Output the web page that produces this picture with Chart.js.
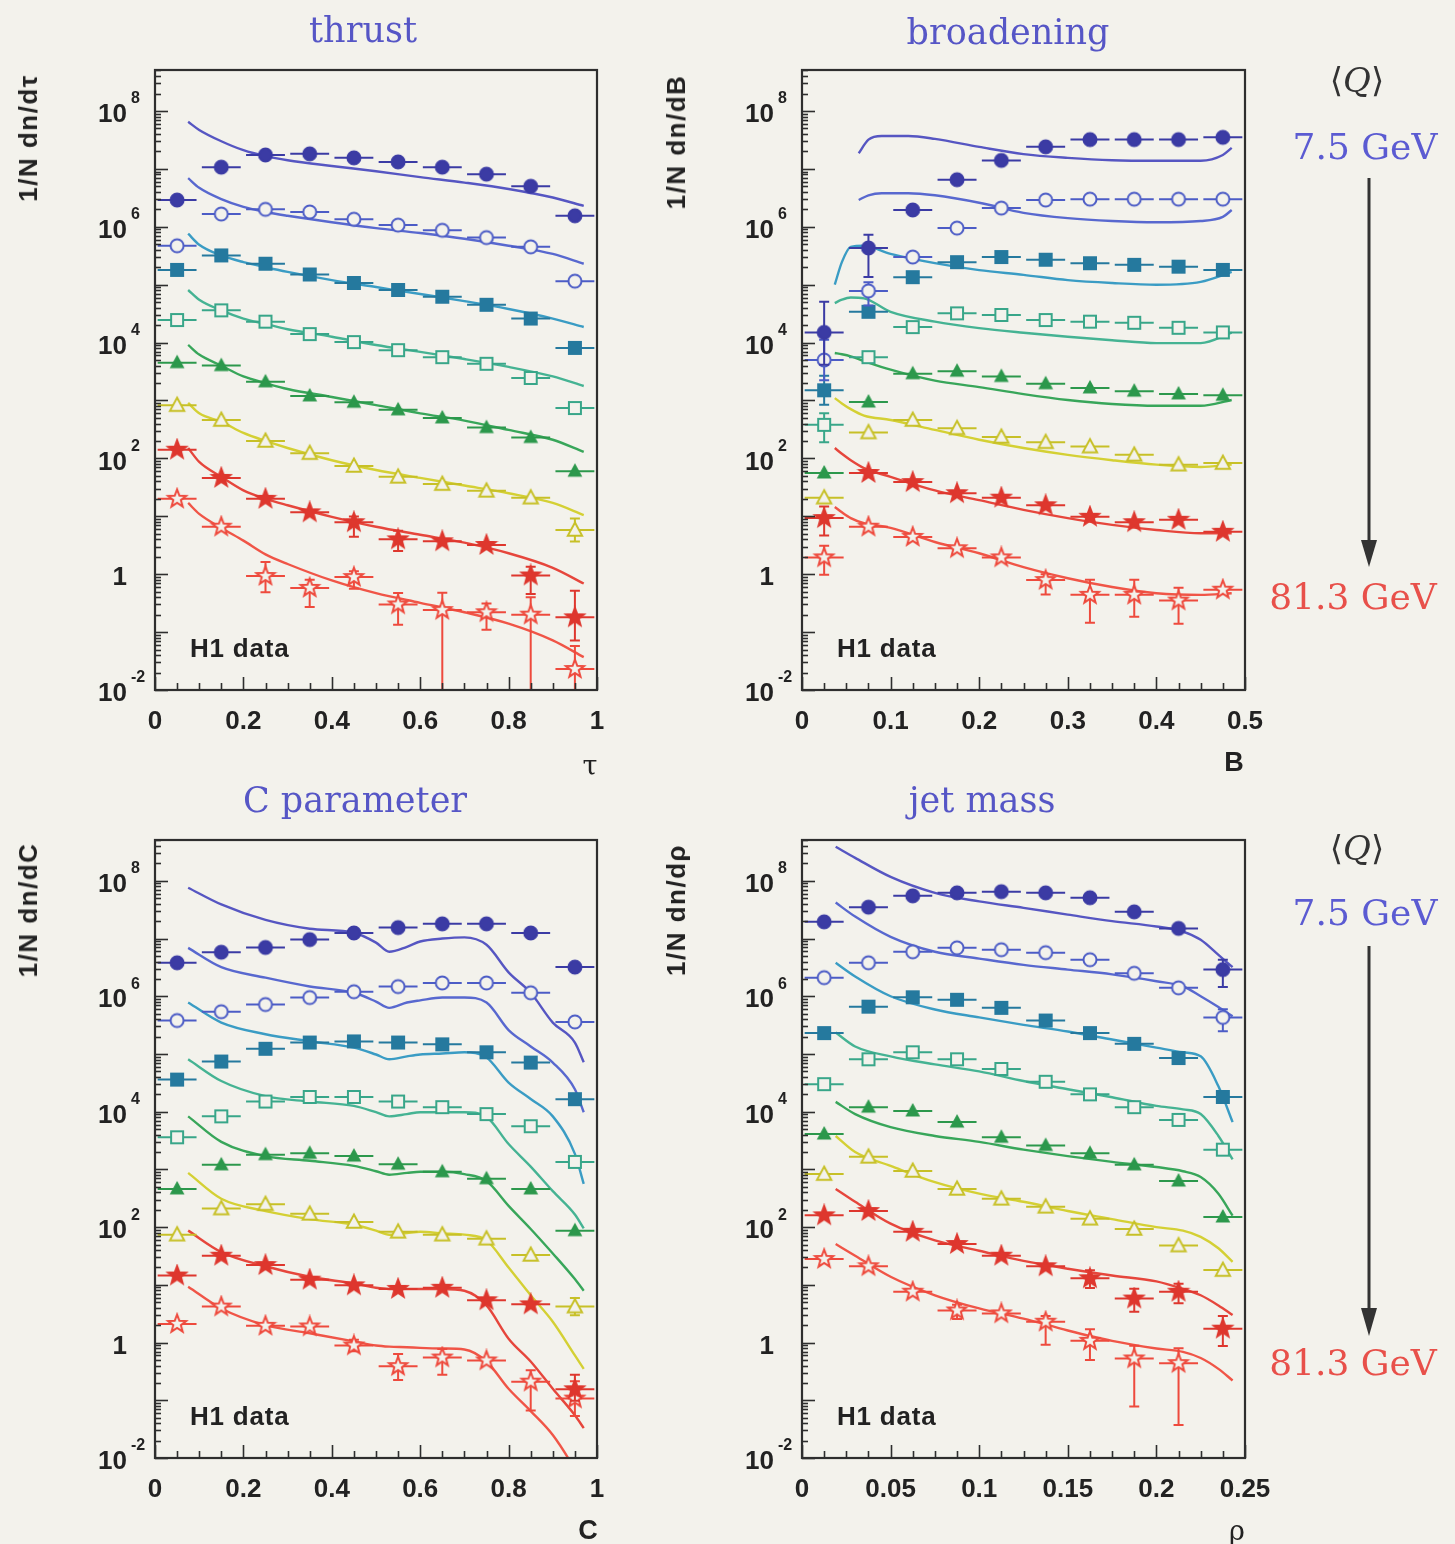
<!DOCTYPE html>
<html><head><meta charset="utf-8">
<script src="https://cdn.jsdelivr.net/npm/chart.js@4.4.1/dist/chart.umd.min.js"></script>
<style>
html,body{margin:0;padding:0;background:#f3f2ec;}
#page{position:relative;width:1455px;height:1544px;overflow:hidden;background:#f3f2ec;}
canvas{position:absolute;}
.t{position:absolute;white-space:nowrap;transform:translate(-50%,-50%);line-height:1;}
.title{font-family:"DejaVu Serif","Liberation Serif",serif;font-size:35px;color:#5656c6;}
.ytitle{font-family:"Liberation Sans",Arial,sans-serif;font-weight:bold;font-size:26px;letter-spacing:1.5px;color:#222;transform:translate(-50%,-50%) rotate(-90deg);}
.h1{font-family:"Liberation Sans",Arial,sans-serif;font-weight:bold;font-size:26px;letter-spacing:0.8px;color:#222;transform:translate(0,-50%);}
.xl{font-family:"Liberation Sans",Arial,sans-serif;font-weight:bold;font-size:27px;color:#222;}
.xg{font-family:"DejaVu Serif","Liberation Serif",serif;font-size:27px;color:#222;}
.q{font-family:"DejaVu Serif","Liberation Serif",serif;font-size:34px;color:#333;}
.blue{font-family:"DejaVu Serif","Liberation Serif",serif;font-size:36px;color:#5b5bd2;}
.red{font-family:"DejaVu Serif","Liberation Serif",serif;font-size:36px;color:#e8504a;}
</style></head>
<body><div id="page">
<canvas id="cT" width="640" height="770" style="left:0;top:0"></canvas>
<canvas id="cB" width="815" height="770" style="left:640px;top:0"></canvas>
<canvas id="cC" width="640" height="774" style="left:0;top:770px"></canvas>
<canvas id="cJ" width="815" height="774" style="left:640px;top:770px"></canvas>

<div class="t title" style="left:363px;top:30px">thrust</div>
<div class="t title" style="left:1008px;top:32px">broadening</div>
<div class="t title" style="left:355px;top:800px">C parameter</div>
<div class="t title" style="left:982px;top:800px">jet mass</div>

<div class="t ytitle" style="left:28px;top:138px">1/N dn/dτ</div>
<div class="t ytitle" style="left:676px;top:142px">1/N dn/dB</div>
<div class="t ytitle" style="left:28px;top:910px">1/N dn/dC</div>
<div class="t ytitle" style="left:676px;top:910px">1/N dn/dρ</div>

<div class="t h1" style="left:190px;top:648px">H1 data</div>
<div class="t h1" style="left:837px;top:648px">H1 data</div>
<div class="t h1" style="left:190px;top:1416px">H1 data</div>
<div class="t h1" style="left:837px;top:1416px">H1 data</div>

<div class="t xg" style="left:590px;top:765px">τ</div>
<div class="t xl" style="left:1234px;top:762px">B</div>
<div class="t xl" style="left:588px;top:1530px">C</div>
<div class="t xg" style="left:1237px;top:1530px">ρ</div>

<div class="t q" style="left:1357px;top:80px">⟨<i>Q</i>⟩</div>
<div class="t blue" style="left:1365px;top:147px">7.5 GeV</div>
<div class="t red" style="left:1353px;top:597px">81.3 GeV</div>
<div class="t q" style="left:1357px;top:848px">⟨<i>Q</i>⟩</div>
<div class="t blue" style="left:1365px;top:913px">7.5 GeV</div>
<div class="t red" style="left:1353px;top:1363px">81.3 GeV</div>

<svg style="position:absolute;left:0;top:0" width="1455" height="1544">
<line x1="1369" y1="178" x2="1369" y2="545" stroke="#333" stroke-width="3"/>
<polygon points="1361,540 1377,540 1369,567" fill="#333"/>
<line x1="1369" y1="946" x2="1369" y2="1312" stroke="#333" stroke-width="3"/>
<polygon points="1361,1308 1377,1308 1369,1336" fill="#333"/>
</svg>
</div>
<script>
// ---------------- DATA ----------------
const yTickValues = [1e-2, 1, 1e2, 1e4, 1e6, 1e8];
const yTickBase = ['10', '1', '10', '10', '10', '10'];
const yTickExp = ['-2', '', '2', '4', '6', '8'];

// thrust
const thrustTicks = [0, 0.2, 0.4, 0.6, 0.8, 1];
const thrustTickLabels = ['0', '0.2', '0.4', '0.6', '0.8', '1'];
const thrustX = [0.05,0.15,0.25,0.35,0.45,0.55,0.65,0.75,0.85,0.95];
const thrustS1 = [2.9e6,1.07e7,1.74e7,1.82e7,1.55e7,1.32e7,1.07e7,8.1e6,5.0e6,1.55e6];
const thrustS2 = [4.7e5,1.66e6,2.0e6,1.8e6,1.35e6,1.07e6,8.7e5,6.5e5,4.5e5,1.15e5];
const thrustS3 = [1.8e5,3.2e5,2.3e5,1.5e5,1.07e5,8.1e4,6.2e4,4.5e4,2.6e4,8.1e3];
const thrustS4 = [2.45e4,3.6e4,2.3e4,1.4e4,1.02e4,7.4e3,5.6e3,4.3e3,2.45e3,740];
const thrustS5 = [4.5e3,4.0e3,2.1e3,1.2e3,930,690,500,340,230,60];
const thrustS6 = [830,460,200,123,74,48,36,27.5,21,5.8];
const thrustS7 = [141,46,20,11.7,7.9,4.0,3.7,3.2,0.95,0.18];
const thrustS8 = [20,6.6,0.93,0.58,0.89,0.30,0.24,0.22,0.20,0.023];
const thrustCurveX = [0.075,0.1,0.15,0.2,0.25,0.3,0.4,0.5,0.6,0.7,0.8,0.9,0.97];
const thrustC1 = [6.5e7,4.7e7,3.0e7,2.1e7,1.66e7,1.41e7,1.12e7,9.1e6,7.2e6,5.8e6,4.5e6,3.2e6,2.3e6];
const thrustC2 = [6.9e6,4.7e6,3.0e6,2.2e6,1.8e6,1.55e6,1.2e6,9.5e5,7.8e5,6.2e5,4.7e5,3.4e5,2.3e5];
const thrustC3 = [7.6e5,4.9e5,3.2e5,2.45e5,2.0e5,1.66e5,1.2e5,9.1e4,6.9e4,5.2e4,3.8e4,2.6e4,1.86e4];
const thrustC4 = [8.1e4,5.5e4,3.6e4,2.6e4,2.1e4,1.7e4,1.26e4,9.1e3,6.9e3,5.2e3,3.8e3,2.6e3,1.78e3];
const thrustC5 = [9.1e3,6.2e3,4.0e3,2.6e3,2.0e3,1.58e3,1.15e3,830,600,450,310,210,129];
const thrustC6 = [910,600,430,275,200,151,93,63,46,34,25,17,10.5];
const thrustC7 = [151,87,48,28,20,15.5,9.8,6.6,4.8,3.5,2.3,1.29,0.69];
const thrustC8 = [17,11,6.3,3.8,2.2,1.5,0.78,0.47,0.32,0.22,0.14,0.072,0.037];
// error bars: [point index, up (dex), down (dex)]
const thrustErr6 = [[9,0.2,0.2]];
const thrustErr7 = [[4,0.1,0.25],[5,0.15,0.2],[8,0.15,0.32],[9,0.46,0.4]];
const thrustErr8 = [[2,0.24,0.28],[3,0.14,0.33],[4,0.1,0.2],[5,0.2,0.35],[6,0.3,3],[7,0.15,0.3],[8,0.3,3],[9,0.4,3]];

// broadening
const brTicks = [0, 0.1, 0.2, 0.3, 0.4, 0.5];
const brTickLabels = ['0', '0.1', '0.2', '0.3', '0.4', '0.5'];
const brX = [0.025,0.075,0.125,0.175,0.225,0.275,0.325,0.375,0.425,0.475];
const brS1 = [1.5e4,4.3e5,1.95e6,6.5e6,1.4e7,2.4e7,3.2e7,3.2e7,3.2e7,3.5e7];
const brS2 = [5.0e3,7.8e4,3.0e5,9.5e5,2.1e6,2.9e6,3.0e6,3.0e6,3.0e6,3.0e6];
const brS3 = [1.5e3,3.4e4,1.35e5,2.45e5,3.0e5,2.7e5,2.35e5,2.2e5,2.05e5,1.8e5];
const brS4 = [380,5.6e3,1.85e4,3.2e4,3.0e4,2.45e4,2.3e4,2.2e4,1.8e4,1.5e4];
const brS5 = [56,940,2.9e3,3.2e3,2.6e3,1.95e3,1.65e3,1.45e3,1.3e3,1.23e3];
const brS6 = [21,280,460,330,235,190,160,115,78,83];
const brS7 = [9.3,56,39,25,21,15.5,9.8,7.9,8.7,5.4];
const brS8 = [1.95,6.6,4.4,2.8,1.95,0.79,0.44,0.44,0.35,0.54];
const brCurveXa = [0.064,0.075,0.09,0.12,0.15,0.2,0.25,0.3,0.35,0.4,0.45,0.475,0.485];
const brCurveXb = [0.037,0.045,0.055,0.07,0.1,0.15,0.2,0.25,0.3,0.35,0.4,0.45,0.485];
const brC1 = [1.86e7,3.2e7,3.7e7,3.7e7,3.3e7,2.4e7,1.8e7,1.55e7,1.41e7,1.38e7,1.38e7,1.74e7,2.3e7];
const brC2 = [2.9e6,3.5e6,3.8e6,3.8e6,3.5e6,2.6e6,1.74e6,1.41e6,1.26e6,1.2e6,1.26e6,1.48e6,1.95e6];
const brC3 = [1.0e5,2.45e5,4.5e5,4.7e5,3.4e5,2.35e5,1.78e5,1.48e5,1.2e5,1.07e5,1.0e5,1.12e5,1.66e5];
const brC4 = [4.8e4,5.5e4,6.0e4,5.8e4,3.4e4,2.3e4,1.78e4,1.48e4,1.26e4,1.1e4,9.8e3,9.8e3,1.48e4];
const brC5 = [6.6e3,6.3e3,5.8e3,4.8e3,3.4e3,2.2e3,1.7e3,1.29e3,1.02e3,870,810,810,1.02e3];
const brC6 = [1.1e3,890,710,550,460,310,210,151,115,93,78,71,78];
const brC7 = [151,120,93,68,48,28,19,12.9,9.3,7.1,5.8,5.1,5.1];
const brC8 = [14.5,11.7,9.3,7.6,6.3,3.6,2.3,1.32,0.85,0.60,0.47,0.44,0.47];
const brErr1 = [[0,0.53,0.56],[1,0.23,0.5]];
const brErr2 = [[0,0.35,0.35],[1,0.15,0.25]];
const brErr3 = [[0,0.25,0.25]];
const brErr4 = [[0,0.2,0.3]];
const brErr7 = [[0,0.2,0.3]];
const brErr8 = [[0,0.2,0.3],[5,0.1,0.25],[6,0.26,0.48],[7,0.26,0.38],[8,0.22,0.4]];

// C parameter
const cX = [0.05,0.15,0.25,0.35,0.45,0.55,0.65,0.75,0.85,0.95];
const cS1 = [3.8e6,5.8e6,7.0e6,9.6e6,1.25e7,1.55e7,1.8e7,1.8e7,1.25e7,3.2e6];
const cS2 = [3.8e5,5.4e5,7.2e5,9.5e5,1.2e6,1.47e6,1.7e6,1.7e6,1.15e6,3.6e5];
const cS3 = [3.6e4,7.4e4,1.23e5,1.58e5,1.65e5,1.58e5,1.47e5,1.07e5,7.1e4,1.65e4];
const cS4 = [3.6e3,8.3e3,1.5e4,1.8e4,1.8e4,1.5e4,1.2e4,9.1e3,5.6e3,1.35e3];
const cS5 = [460,1.2e3,1.8e3,1.9e3,1.7e3,1.23e3,910,690,460,87];
const cS6 = [74,210,250,170,123,83,74,63,33,4.2];
const cS7 = [14.5,32,22,12.3,9.8,8.5,8.9,5.4,4.6,0.155];
const cS8 = [2.1,4.2,1.95,1.9,0.89,0.39,0.55,0.49,0.21,0.107];
const cCurveX = [0.075,0.15,0.25,0.35,0.45,0.5,0.53,0.57,0.6,0.65,0.7,0.75,0.8,0.85,0.9,0.95,0.97];
const cC1 = [7.6e7,3.9e7,2.1e7,1.48e7,1.26e7,8.5e6,5.9e6,7.2e6,8.9e6,1.0e7,1.05e7,7.8e6,2.6e6,1.15e6,3.5e5,1.58e5,7.2e4];
const cC2 = [6.9e6,3.2e6,2.1e6,1.48e6,1.15e6,8.1e5,6.3e5,7.8e5,8.5e5,9.5e5,9.5e5,7.8e5,2.6e5,1.35e5,7.1e4,2.45e4,9.8e3];
const cC3 = [7.8e5,3.5e5,2.2e5,1.66e5,1.29e5,9.8e4,8.1e4,9.1e4,9.8e4,1.02e5,1.07e5,8.7e4,3.2e4,1.66e4,8.3e3,1.86e3,560];
const cC4 = [8.1e4,3.4e4,1.86e4,1.5e4,1.26e4,9.8e3,8.3e3,9.1e3,9.8e3,9.8e3,9.8e3,8.1e3,2.75e3,1.12e3,420,166,95];
const cC5 = [8.3e3,3.0e3,1.7e3,1.41e3,1.15e3,930,810,870,910,910,830,630,234,93,35,12.6,7.9];
const cC6 = [870,310,190,138,110,87,74,79,83,78,74,59,20,6.6,2.3,0.60,0.35];
const cC7 = [87,37,21,13.8,10.5,8.9,8.5,8.5,8.5,8.5,7.9,4.4,1.17,0.47,0.158,0.055,0.033];
const cC8 = [9.3,3.9,2.0,1.45,1.05,0.89,0.85,0.83,0.81,0.79,0.76,0.47,0.158,0.065,0.025,0.0063,0.0032];
const cErr6 = [[9,0.15,0.15]];
const cErr7 = [[9,0.25,0.2]];
const cErr8 = [[4,0.1,0.1],[5,0.21,0.24],[6,0.15,0.3],[8,0.2,0.5],[9,0.3,0.3]];

// jet mass
const jetTicks = [0, 0.05, 0.1, 0.15, 0.2, 0.25];
const jetTickLabels = ['0', '0.05', '0.1', '0.15', '0.2', '0.25'];
const jetX = [0.0125,0.0375,0.0625,0.0875,0.1125,0.1375,0.1625,0.1875,0.2125,0.2375];
const jetS1 = [1.95e7,3.5e7,5.5e7,6.2e7,6.5e7,6.2e7,5.1e7,2.9e7,1.5e7,2.9e6];
const jetS2 = [2.1e6,3.8e6,5.9e6,6.9e6,6.4e6,5.7e6,4.3e6,2.5e6,1.4e6,4.3e5];
const jetS3 = [2.3e5,6.6e5,9.6e5,8.7e5,6.3e5,3.8e5,2.3e5,1.5e5,8.5e4,1.8e4];
const jetS4 = [3.0e4,8.1e4,1.07e5,8.1e4,5.5e4,3.3e4,2.0e4,1.2e4,7.2e3,2.2e3];
const jetS5 = [4.1e3,1.2e4,1.03e4,6.6e3,3.6e3,2.6e3,1.9e3,1.2e3,630,150];
const jetS6 = [830,1.65e3,940,460,310,225,140,93,48,18];
const jetS7 = [160,190,83,51,32,21,13,5.8,7.6,1.74];
const jetS8 = [28,21,7.6,3.6,3.2,2.3,1.07,0.53,0.44,null];
const jetCurveX = [0.019,0.03,0.05,0.075,0.1,0.125,0.15,0.175,0.2,0.215,0.225,0.235,0.243];
const jetC1 = [3.9e8,2.5e8,1.17e8,6.2e7,4.4e7,3.4e7,2.6e7,2.0e7,1.62e7,1.32e7,9.5e6,5.2e6,3.2e6];
const jetC2 = [4.2e7,2.4e7,1.07e7,5.9e6,4.5e6,3.5e6,2.9e6,2.4e6,1.82e6,1.48e6,1.0e6,6.5e5,4.5e5];
const jetC3 = [3.8e6,2.2e6,1.0e6,5.9e5,4.3e5,3.2e5,2.45e5,1.78e5,1.29e5,1.07e5,9.1e4,2.75e4,6.6e3];
const jetC4 = [2.35e5,1.35e5,9.1e4,6.6e4,5.0e4,3.4e4,2.45e4,1.78e4,1.26e4,1.1e4,9.1e3,3.8e3,1.5e3];
const jetC5 = [1.48e4,9.1e3,5.4e3,3.8e3,3.0e3,2.2e3,1.7e3,1.35e3,1.1e3,930,740,380,158];
const jetC6 = [3.8e3,2.0e3,1.15e3,600,380,275,190,138,100,87,68,43,25];
const jetC7 = [460,275,115,59,39,26,19,14.5,11.5,8.5,6.6,4.4,3.0];
const jetC8 = [51,32,13.8,6.6,3.9,2.6,1.62,1.07,0.79,0.69,0.54,0.35,0.22];
const jetErr1 = [[9,0.17,0.3]];
const jetErr2 = [[9,0.14,0.24]];
const jetErr7 = [[6,0.14,0.17],[7,0.17,0.23],[8,0.14,0.2],[9,0.22,0.3]];
const jetErr8 = [[3,0.1,0.15],[5,0.1,0.4],[6,0.2,0.33],[7,0.22,0.83],[8,0.26,1.07]];

// ---------------- STYLE ----------------
const BG = '#f3f2ec';
const FONT = '"Liberation Sans", Arial, sans-serif';
const markerColors = ['#3b3ba4','#4c5cc6','#25799e','#38a689','#2c984c','#c7c027','#de372e','#ee4a3d'];
const curveColors  = ['#5656c2','#5868cf','#3a9cc4','#45b393','#38a65a','#d4d034','#e6463c','#f05547'];
const shapes = ['circle','circle','square','square','triangle','triangle','star','star'];
const filled = [true,false,true,false,true,false,true,false];

function makeMarker(shape, color, isFilled) {
  const s = 24, c = document.createElement('canvas');
  c.width = s; c.height = s;
  const g = c.getContext('2d');
  g.translate(s/2, s/2);
  g.lineWidth = 2; g.strokeStyle = color; g.fillStyle = isFilled ? color : BG;
  g.beginPath();
  if (shape === 'circle') g.arc(0, 0, 6.5, 0, Math.PI*2);
  else if (shape === 'square') g.rect(-6, -6, 12, 12);
  else if (shape === 'triangle') { const r = isFilled ? 6 : 7.5; g.moveTo(0, -r); g.lineTo(r*0.95, r*0.75); g.lineTo(-r*0.95, r*0.75); g.closePath(); }
  else {
    const R = 9.5, r = 4;
    for (let k = 0; k < 10; k++) {
      const a = -Math.PI/2 + k*Math.PI/5, rr = k%2 ? r : R;
      const px = rr*Math.cos(a), py = rr*Math.sin(a);
      if (k === 0) g.moveTo(px, py); else g.lineTo(px, py);
    }
    g.closePath();
  }
  g.fill(); g.stroke();
  return c;
}

const errPlugin = {
  id: 'errbars',
  beforeDatasetDraw(chart, args) {
    const ds = chart.data.datasets[args.index];
    if (!ds.isData) return;
    const {ctx, chartArea: a, scales: {x, y}} = chart;
    ctx.save();
    ctx.beginPath(); ctx.rect(a.left, a.top, a.right - a.left, a.bottom - a.top); ctx.clip();
    ctx.strokeStyle = ds.errColor; ctx.lineWidth = 2;
    ds.data.forEach(p => {
      if (p.y == null) return;
      const py = y.getPixelForValue(p.y);
      ctx.beginPath();
      ctx.moveTo(x.getPixelForValue(p.x - ds.halfBin), py);
      ctx.lineTo(x.getPixelForValue(p.x + ds.halfBin), py);
      ctx.stroke();
    });
    (ds.errs || []).forEach(([i, up, dn]) => {
      const p = ds.data[i];
      const px = x.getPixelForValue(p.x);
      const yt = y.getPixelForValue(p.y * Math.pow(10, up));
      const yb = y.getPixelForValue(p.y / Math.pow(10, dn));
      ctx.beginPath();
      ctx.moveTo(px, yt); ctx.lineTo(px, yb);
      ctx.moveTo(px - 5, yt); ctx.lineTo(px + 5, yt);
      ctx.moveTo(px - 5, yb); ctx.lineTo(px + 5, yb);
      ctx.stroke();
    });
    ctx.restore();
  }
};

const framePlugin = {
  id: 'frame',
  afterDraw(chart, args, o) {
    const {ctx, chartArea: a, scales: {x, y}} = chart;
    ctx.save();
    ctx.strokeStyle = '#2e2e2e';
    ctx.lineWidth = 1.6;
    for (let e = -2; e <= 8; e++) {
      for (let m = 1; m <= 9; m++) {
        const v = m * Math.pow(10, e);
        if (v > y.max) break;
        const py = Math.round(y.getPixelForValue(v)) + 0.5;
        const len = m === 1 ? 13 : 6;
        ctx.beginPath(); ctx.moveTo(a.left, py); ctx.lineTo(a.left + len, py); ctx.stroke();
      }
    }
    const n = Math.round(x.max / o.minor);
    for (let i = 0; i <= n; i++) {
      const px = Math.round(x.getPixelForValue(i * o.minor)) + 0.5;
      const len = (i % o.per === 0) ? 13 : 7;
      ctx.beginPath(); ctx.moveTo(px, a.bottom); ctx.lineTo(px, a.bottom - len); ctx.stroke();
    }
    ctx.lineWidth = 2.2;
    ctx.strokeRect(a.left, a.top, a.right - a.left, a.bottom - a.top);
    // y tick labels: base + raised exponent, at the library's tick positions
    ctx.fillStyle = '#222';
    ctx.textBaseline = 'middle';
    y.ticks.forEach((t, i) => {
      const py = y.getPixelForValue(t.value);
      ctx.font = 'bold 26px ' + FONT;
      ctx.textAlign = 'right';
      ctx.fillText(yTickBase[i], a.left - 28, py + 4);
      if (yTickExp[i]) {
        ctx.font = 'bold 16px ' + FONT;
        ctx.textAlign = 'left';
        ctx.fillText(yTickExp[i], a.left - 24, py - 12);
      }
    });
    ctx.restore();
  }
};

function makePanel(id, p) {
  const datasets = [];
  for (let k = 0; k < 8; k++) {
    datasets.push({
      type: 'line',
      data: p.curveX[k].map((xv, i) => ({x: xv, y: p.curves[k][i]})),
      borderColor: curveColors[k], borderWidth: 2.4,
      pointRadius: 0, cubicInterpolationMode: 'monotone', fill: false, order: 2
    });
  }
  for (let k = 0; k < 8; k++) {
    datasets.push({
      type: 'scatter', isData: true,
      data: p.x.map((xv, i) => ({x: xv, y: p.series[k][i]})),
      pointStyle: makeMarker(shapes[k], markerColors[k], filled[k]),
      pointRadius: 8, errColor: markerColors[k], halfBin: p.halfBin,
      errs: p.errs[k], order: 1
    });
  }
  const tickFont = {family: FONT, size: 26, weight: 'bold'};
  new Chart(document.getElementById(id), {
    data: {datasets},
    options: {
      responsive: false, animation: false, devicePixelRatio: 1,
      layout: {padding: {left: 0, top: 70, right: p.padRight, bottom: 0}},
      plugins: {legend: {display: false}, tooltip: {enabled: false},
                frame: {minor: p.minor, per: p.per}},
      scales: {
        x: {
          type: 'linear', min: 0, max: p.xMax,
          grid: {display: false}, border: {display: false},
          afterBuildTicks: s => { s.ticks = p.xTicks.map(v => ({value: v})); },
          afterFit: s => { s.height = p.xH; },
          ticks: {autoSkip: false, maxRotation: 0, padding: 8, color: '#222', font: tickFont,
                  callback: (v, i) => p.xLabels[i]}
        },
        y: {
          type: 'logarithmic', min: 0.01, max: 5.1e8,
          grid: {display: false}, border: {display: false},
          afterBuildTicks: s => { s.ticks = yTickValues.map(v => ({value: v})); },
          afterFit: s => { s.width = p.yW; },
          ticks: {display: false, autoSkip: false}
        }
      }
    },
    plugins: [errPlugin, framePlugin]
  });
}

makePanel('cT', {
  x: thrustX, series: [thrustS1,thrustS2,thrustS3,thrustS4,thrustS5,thrustS6,thrustS7,thrustS8],
  curveX: Array(8).fill(thrustCurveX),
  curves: [thrustC1,thrustC2,thrustC3,thrustC4,thrustC5,thrustC6,thrustC7,thrustC8],
  errs: [null,null,null,null,null,thrustErr6,thrustErr7,thrustErr8],
  halfBin: 0.044, xMax: 1, xTicks: thrustTicks, xLabels: thrustTickLabels,
  minor: 0.05, per: 4, yW: 155, xH: 80, padRight: 43
});
makePanel('cB', {
  x: brX, series: [brS1,brS2,brS3,brS4,brS5,brS6,brS7,brS8],
  curveX: [brCurveXa,brCurveXa,brCurveXb,brCurveXb,brCurveXb,brCurveXb,brCurveXb,brCurveXb],
  curves: [brC1,brC2,brC3,brC4,brC5,brC6,brC7,brC8],
  errs: [brErr1,brErr2,brErr3,brErr4,null,null,brErr7,brErr8],
  halfBin: 0.022, xMax: 0.5, xTicks: brTicks, xLabels: brTickLabels,
  minor: 0.025, per: 4, yW: 162, xH: 80, padRight: 210
});
makePanel('cC', {
  x: cX, series: [cS1,cS2,cS3,cS4,cS5,cS6,cS7,cS8],
  curveX: Array(8).fill(cCurveX),
  curves: [cC1,cC2,cC3,cC4,cC5,cC6,cC7,cC8],
  errs: [null,null,null,null,null,cErr6,cErr7,cErr8],
  halfBin: 0.044, xMax: 1, xTicks: thrustTicks, xLabels: thrustTickLabels,
  minor: 0.05, per: 4, yW: 155, xH: 86, padRight: 43
});
makePanel('cJ', {
  x: jetX, series: [jetS1,jetS2,jetS3,jetS4,jetS5,jetS6,jetS7,jetS8],
  curveX: Array(8).fill(jetCurveX),
  curves: [jetC1,jetC2,jetC3,jetC4,jetC5,jetC6,jetC7,jetC8],
  errs: [jetErr1,jetErr2,null,null,null,null,jetErr7,jetErr8],
  halfBin: 0.011, xMax: 0.25, xTicks: jetTicks, xLabels: jetTickLabels,
  minor: 0.0125, per: 4, yW: 162, xH: 86, padRight: 210
});
</script>
</body></html>
